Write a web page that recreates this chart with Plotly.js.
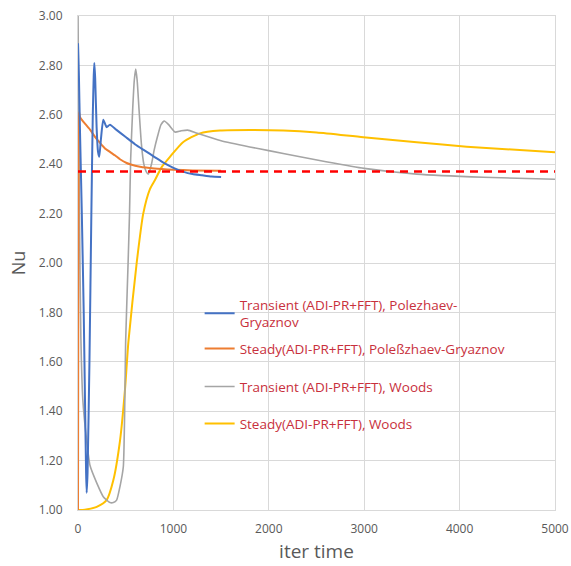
<!DOCTYPE html>
<html>
<head>
<meta charset="utf-8">
<script src="https://cdn.plot.ly/plotly-3.0.1.min.js"></script>
<style>html,body{margin:0;padding:0;background:#fff;}#chart{width:571px;height:566px;}</style>
</head>
<body>
<div id="chart"></div>
<script>
// Transient (ADI-PR+FFT), Polezhaev-Gryaznov
const tpgX = [0, 10, 20, 40, 60, 75, 85, 91, 100, 120, 140, 155, 165, 171, 180, 195, 210, 223, 240, 265, 300, 335, 400, 500, 600, 700, 800, 900, 1000, 1100, 1200, 1300, 1400, 1500];
const tpgY = [2.89, 2.75, 2.55, 2.2, 1.8, 1.4, 1.15, 1.07, 1.15, 1.6, 2.2, 2.6, 2.76, 2.81, 2.75, 2.55, 2.45, 2.43, 2.5, 2.58, 2.55, 2.56, 2.54, 2.51, 2.48, 2.455, 2.43, 2.405, 2.385, 2.37, 2.36, 2.355, 2.35, 2.348];
// Steady(ADI-PR+FFT), Polezhaev-Gryaznov
const spgX = [0, 6, 12, 21, 60, 126, 180, 231, 280, 335, 390, 440, 510, 545, 650, 800, 1000, 1200, 1500];
const spgY = [1.0, 2.55, 2.61, 2.59, 2.57, 2.54, 2.51, 2.486, 2.465, 2.45, 2.435, 2.42, 2.405, 2.40, 2.39, 2.383, 2.378, 2.375, 2.373];
// Transient (ADI-PR+FFT), Woods
const twX = [0, 8, 15, 30, 50, 91, 126, 196, 265, 335, 370, 405, 440, 475, 500, 525, 540, 552, 573, 590, 605, 620, 640, 665, 690, 715, 737, 770, 800, 832, 870, 905, 950, 1017, 1080, 1150, 1250, 1500, 1800, 2000, 2327, 2600, 3000, 3550, 4250, 5000];
const twY = [3.02, 2.6, 2.2, 1.7, 1.45, 1.28, 1.18, 1.11, 1.054, 1.03, 1.03, 1.04, 1.095, 1.175, 1.69, 2.0, 2.2, 2.42, 2.62, 2.74, 2.785, 2.74, 2.62, 2.48, 2.40, 2.37, 2.36, 2.40, 2.46, 2.51, 2.56, 2.575, 2.56, 2.53, 2.535, 2.538, 2.525, 2.495, 2.47, 2.455, 2.43, 2.41, 2.383, 2.36, 2.347, 2.339];
// Steady(ADI-PR+FFT), Woods
const swX = [0, 50, 100, 196, 300, 370, 440, 493, 528, 615, 684, 755, 807, 880, 964, 1104, 1279, 1488, 1803, 2152, 2502, 2991, 3550, 4074, 5000];
const swY = [1.0, 1.0, 1.003, 1.013, 1.04, 1.12, 1.28, 1.49, 1.68, 2.0, 2.2, 2.30, 2.336, 2.39, 2.43, 2.49, 2.525, 2.536, 2.538, 2.536, 2.528, 2.509, 2.489, 2.471, 2.448];
// Reference level
const refX = [0, 5000];
const refY = [2.37, 2.37];

const names = [
  'Transient (ADI-PR+FFT), Polezhaev-<br>Gryaznov',
  'Steady(ADI-PR+FFT), Poleßzhaev-Gryaznov',
  'Transient (ADI-PR+FFT), Woods',
  'Steady(ADI-PR+FFT), Woods'
];
const xTicks = [0, 1000, 2000, 3000, 4000, 5000];
const yTicks = [1.0, 1.2, 1.4, 1.6, 1.8, 2.0, 2.2, 2.4, 2.6, 2.8, 3.0];

const legFont = {family: 'Open Sans, sans-serif', size: 13.5, color: '#c8303c'};

const traces = [
  {x: swX, y: swY, name: names[3], mode: 'lines', line: {color: '#ffc000', width: 2, shape: 'spline', smoothing: 0.6}, legend: 'legend4'},
  {x: twX, y: twY, name: names[2], mode: 'lines', line: {color: '#a5a5a5', width: 1.6, shape: 'spline', smoothing: 0.5}, legend: 'legend3'},
  {x: spgX, y: spgY, name: names[1], mode: 'lines', line: {color: '#ed7d31', width: 2, shape: 'spline', smoothing: 0.5}, legend: 'legend2'},
  {x: tpgX, y: tpgY, name: names[0], mode: 'lines', line: {color: '#4472c4', width: 2, shape: 'spline', smoothing: 0.5}, legend: 'legend'},
  {x: refX, y: refY, mode: 'lines', line: {color: '#ff0000', width: 2.5, dash: '8px,6px'}, showlegend: false, hoverinfo: 'skip'}
];

function leg(y) {
  return {x: 0.255, y: y, xanchor: 'left', yanchor: 'top', bgcolor: 'rgba(0,0,0,0)', font: legFont, borderwidth: 0, tracegroupgap: 0};
}

const layout = {
  width: 571, height: 566,
  margin: {l: 78, r: 16, t: 16, b: 56},
  paper_bgcolor: '#fff', plot_bgcolor: '#fff',
  showlegend: true,
  legend: leg(0.447),
  legend2: leg(0.358),
  legend3: leg(0.281),
  legend4: leg(0.206),
  xaxis: {
    range: [0, 5000], tickvals: xTicks, ticktext: xTicks.map(String),
    showgrid: true, gridcolor: '#d9d9d9', gridwidth: 1,
    showline: true, linecolor: '#d9d9d9', mirror: true, zeroline: false,
    ticks: '', ticklabelstandoff: 8,
    tickfont: {family: 'Open Sans, sans-serif', size: 12, color: '#595959'},
    title: {text: 'iter time', font: {family: 'Open Sans, sans-serif', size: 19, color: '#595959'}, standoff: 8}
  },
  yaxis: {
    range: [1, 3], tickvals: yTicks, ticktext: yTicks.map(v => v.toFixed(2)),
    showgrid: true, gridcolor: '#d9d9d9', gridwidth: 1,
    showline: true, linecolor: '#d9d9d9', mirror: true, zeroline: false,
    ticks: '', ticklabelstandoff: 12,
    tickfont: {family: 'Open Sans, sans-serif', size: 12, color: '#595959'},
    title: {text: 'Nu', font: {family: 'Open Sans, sans-serif', size: 18, color: '#595959'}, standoff: 8}
  }
};

Plotly.newPlot('chart', traces, layout, {displayModeBar: false, staticPlot: true});
</script>
</body>
</html>
